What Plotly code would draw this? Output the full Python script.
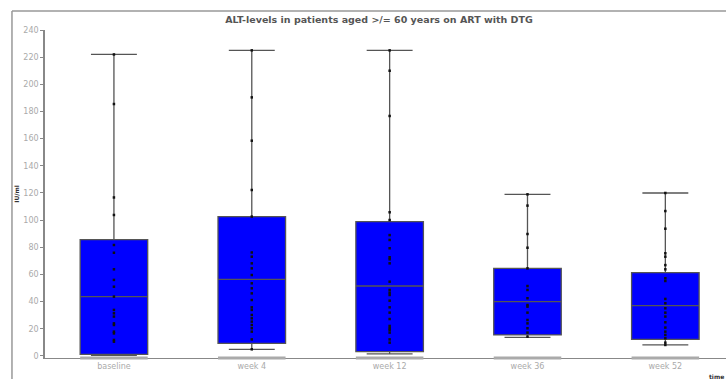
import plotly.graph_objects as go

categories = ["baseline", "week 4", "week 12", "week 36", "week 52"]
q1 = [1.2, 9.3, 3.2, 15.5, 12.2]
median = [43.7, 56.4, 51.5, 40.0, 37.0]
q3 = [85.6, 102.6, 98.9, 64.5, 61.3]
lower = [0.5, 4.9, 1.5, 13.7, 8.1]
upper = [222, 225, 225, 119, 120]

points = {
    "baseline": [222, 185.5, 116.7, 103.8, 81.7, 76, 63.8, 56, 51, 43.7, 33.9, 31.4, 29, 24, 22.8,
                 17.9, 16.6, 11.8, 10.5],
    "week 4": [225, 190.4, 158.5, 122.2, 102.6, 76.2, 73.1, 68.2, 64.5, 59.6, 53.5, 49.8, 46.1, 41.2,
               35.8, 33.9, 30.2, 27.7, 25.3, 22.8, 20.4, 17.9, 12.2, 4.9],
    "week 12": [225, 210, 176.7, 105.8, 100.1, 89, 85.4, 79.3, 72.7, 71.2, 68.2, 54.7, 48.6, 46.6,
                44.9, 40.7, 35.8, 31.9, 27.2, 22.1, 20.4, 19.1, 17.2, 12.2, 9.8],
    "week 36": [119, 110.7, 89.8, 79.7, 64.5, 51.5, 48.6, 42.5, 37.5, 36.3, 31.9, 26.5, 24, 20.4,
                17.2, 14.2],
    "week 52": [120, 106.7, 93.7, 75.6, 73.1, 66.9, 63.8, 57.2, 55.2, 42, 38.8, 35.1, 31.9, 29, 24.8,
                20.9, 17.9, 15.5, 13, 9.8, 8.1],
}

y_ticks = list(range(0, 241, 20))

fig = go.Figure()
fig.add_trace(go.Box(
    x=categories, q1=q1, median=median, q3=q3, lowerfence=lower, upperfence=upper,
    fillcolor="#0000FF", line=dict(color="#555555", width=1.3),
    width=0.49, whiskerwidth=0.68, boxpoints=False, showlegend=False, hoverinfo="skip",
))
for cat in categories:
    fig.add_trace(go.Scatter(
        x=[cat] * len(points[cat]), y=points[cat], mode="markers",
        marker=dict(symbol="square", size=2.5, color="#111111"),
        showlegend=False, hoverinfo="skip",
    ))

shapes = []
for i, _ in enumerate(categories):
    shapes.append(dict(type="line", xref="x", yref="paper", x0=i - 0.245, x1=i + 0.245,
                       y0=0, y1=0, line=dict(color="#AAAAAA", width=3), layer="above"))
# outer frame
shapes.append(dict(type="line", xref="paper", yref="paper", x0=-0.0485, x1=1.01, y0=1.058, y1=1.058,
                   line=dict(color="#999999", width=1.5)))
shapes.append(dict(type="line", xref="paper", yref="paper", x0=-0.0485, x1=-0.0485, y0=1.058, y1=-0.07,
                   line=dict(color="#999999", width=1.5)))

fig.update_layout(
    width=726, height=379,
    margin=dict(l=45, r=0, t=30, b=21),
    paper_bgcolor="white", plot_bgcolor="white",
    font=dict(family="DejaVu Sans", color="#999999", size=8),
    title=dict(text="<b>ALT-levels in patients aged &gt;/= 60 years on ART with DTG</b>",
               x=0.522, xanchor="center", y=0.947, yanchor="middle",
               font=dict(family="DejaVu Sans", size=9.5, color="#555555")),
    xaxis=dict(type="category", categoryarray=categories, range=[-0.5, 4.44],
               showline=True, linecolor="#888888", linewidth=1, ticks="", showgrid=False,
               tickfont=dict(size=8, color="#AAAAAA"), zeroline=False),
    yaxis=dict(range=[-1.5, 240], tickvals=y_ticks, showline=True, linecolor="#888888", linewidth=1.5,
               ticks="outside", ticklen=3, tickcolor="#888888", showgrid=False, zeroline=False,
               tickfont=dict(size=8, color="#AAAAAA"),
               title=dict(text="<b>IU/ml</b>", font=dict(size=6, color="#333333"), standoff=3)),
    shapes=shapes,
    annotations=[dict(text="<b>time</b>", xref="paper", yref="paper", x=1.0, y=-0.055,
                      xanchor="right", yanchor="middle", showarrow=False,
                      font=dict(size=6, color="#333333"))],
)

fig.write_html("out.html")
